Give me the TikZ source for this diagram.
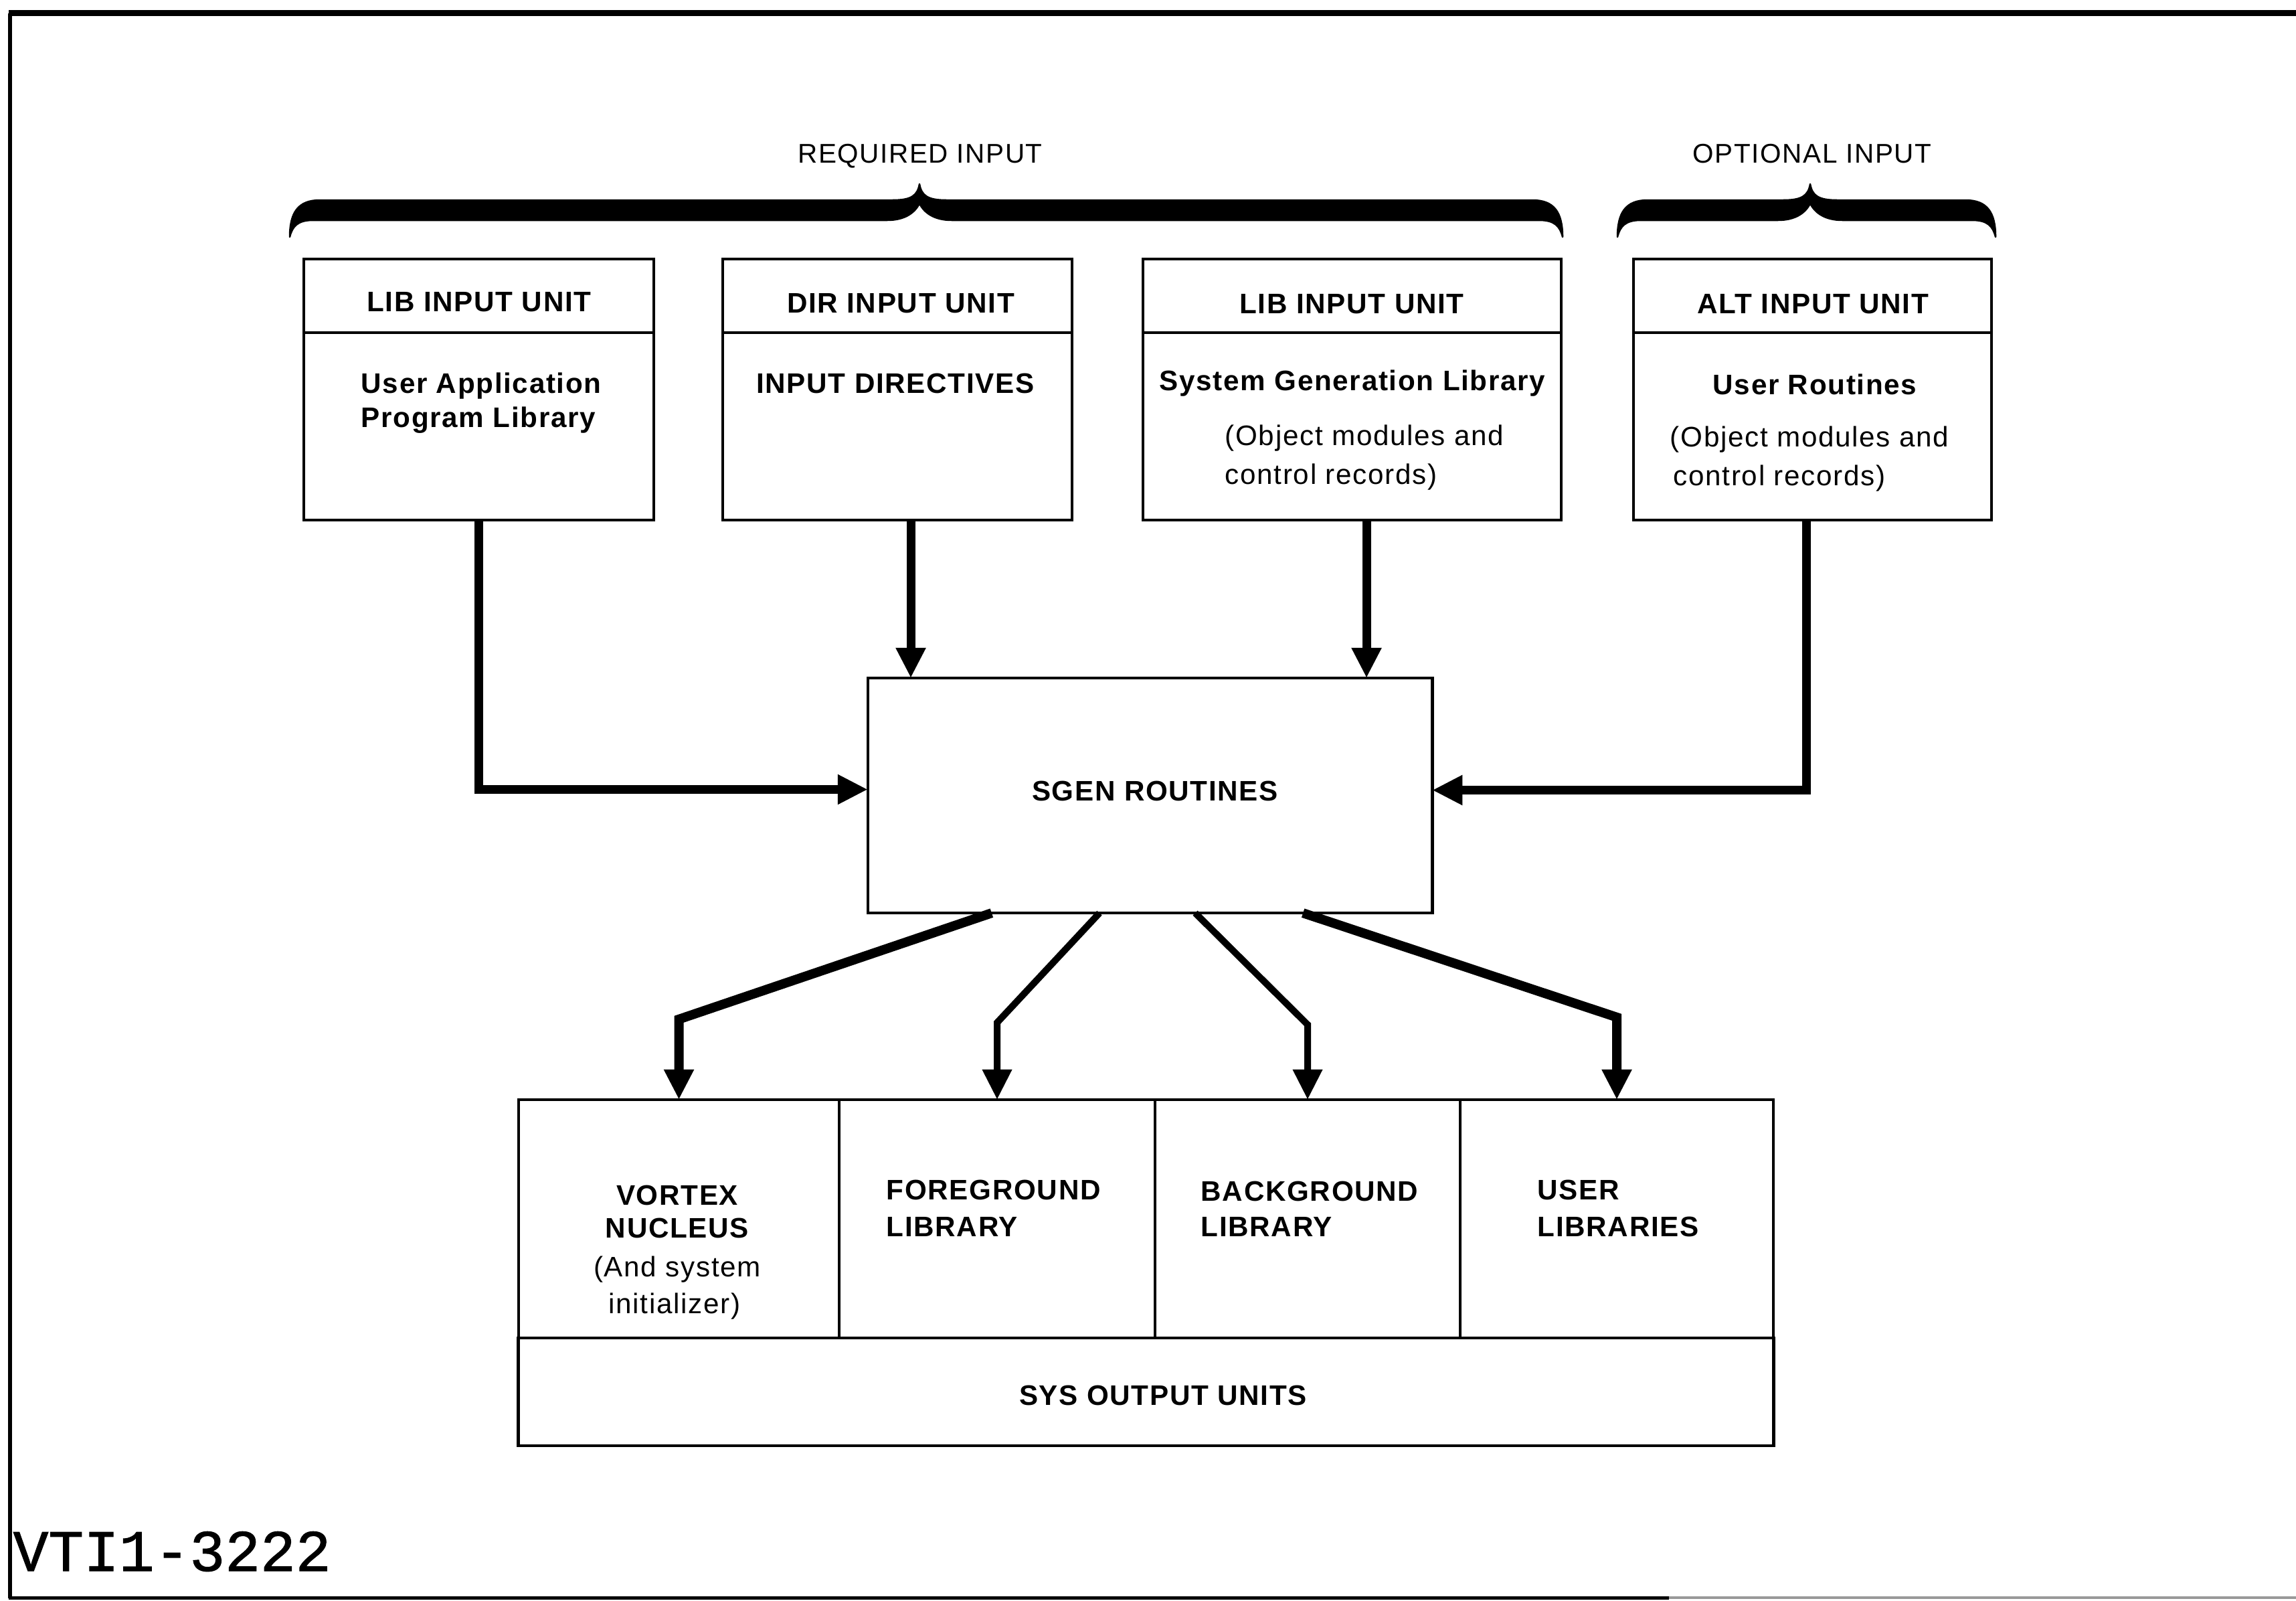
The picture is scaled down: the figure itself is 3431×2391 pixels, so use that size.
\documentclass[tikz,border=0pt]{standalone}
\usepackage{fontspec}
\setmainfont{Liberation Sans}
\newfontfamily\labfont{Liberation Sans}[LetterSpace=4]
\newfontfamily\codefont{Liberation Mono}[FakeBold=1.2]
\usetikzlibrary{arrows.meta}
\newcommand\mybrace[3]{%
 \filldraw[line width=0.025cm, line join=round] (#1,354) .. controls (#1,318) and ({#1+12},299) .. ({#1+45},299)
 -- ({#2-40},299) .. controls ({#2-12},299) and ({#2-3},292) .. (#2,275)
 .. controls ({#2+3},292) and ({#2+12},299) .. ({#2+40},299)
 -- ({#3-45},299) .. controls ({#3-12},299) and (#3,318) .. (#3,354)
 .. controls ({#3-4},338) and ({#3-12},329) .. ({#3-35},329)
 -- ({#2+48},329) .. controls ({#2+22},329) and ({#2+7},318) .. (#2,304)
 .. controls ({#2-7},318) and ({#2-22},329) .. ({#2-48},329)
 -- ({#1+35},329) .. controls ({#1+12},329) and ({#1+4},338) .. (#1,354) -- cycle;}
\begin{document}
\begin{tikzpicture}[x=0.01cm, y=-0.01cm,
  box/.style={draw, line width=0.045cm, inner sep=0pt, outer sep=0pt},
  divline/.style={line width=0.045cm},
  hd/.style={font=\labfont\bfseries\fontsize{12pt}{14pt}\selectfont, inner sep=0pt, anchor=base},
  hdl/.style={hd, anchor=base west},
  rg/.style={font=\labfont\fontsize{12pt}{14pt}\selectfont, inner sep=0pt, anchor=base},
  rgl/.style={rg, anchor=base west},
  brlab/.style={font=\labfont\fontsize{11.5pt}{14pt}\selectfont, inner sep=0pt, anchor=base},
  arr/.style={line width=0.13cm, -{Triangle[length=0.45cm,width=0.42cm]}},
  arrthin/.style={arr, line width=0.1cm},
  arrthick/.style={arr, line width=0.14cm}]
\useasboundingbox (0,0) rectangle (3431,2391);
% frame
\draw[line width=0.09cm] (13,20) -- (3431,20);
\draw[line width=0.06cm] (15,20) -- (15,2388);
\draw[line width=0.05cm] (13,2387) -- (2494,2387);
\draw[line width=0.04cm, black!40] (2494,2387) -- (3431,2387);
% braces
\mybrace{433}{1374}{2335}
\mybrace{2417}{2705}{2982}
\node[brlab] (req) at (1375,243) {REQUIRED INPUT};
\node[brlab] (opt) at (2708,243) {OPTIONAL INPUT};
% input boxes
\node[box, minimum width=5.23cm, minimum height=3.9cm] (b1) at (715.5,582) {};
\node[box, minimum width=5.22cm, minimum height=3.9cm] (b2) at (1341,582) {};
\node[box, minimum width=6.25cm, minimum height=3.9cm] (b3) at (2020.5,582) {};
\node[box, minimum width=5.35cm, minimum height=3.9cm] (b4) at (2708.5,582) {};
\foreach \b in {b1,b2,b3,b4}
  \draw[divline] ([yshift=-1.1cm]\b.north west) -- ([yshift=-1.1cm]\b.north east);
\node[hd] (h1) at (716,465) {LIB INPUT UNIT};
\node[hd] (h2) at (1346,467) {DIR INPUT UNIT};
\node[hd] (h3) at (2020,468) {LIB INPUT UNIT};
\node[hd] (h4) at (2709,468) {ALT INPUT UNIT};
\node[hdl] (t1a) at (539,587) {User Application};
\node[hdl] (t1b) at (539,638) {Program Library};
\node[hd] (t2a) at (1338,587) {INPUT DIRECTIVES};
\node[hd] (t3a) at (2021,583) {System Generation Library};
\node[rgl] (t3b) at (1830,665) {(Object modules and};
\node[rgl] (t3c) at (1830,723) {control records)};
\node[hd] (t4a) at (2712,589) {User Routines};
\node[rgl] (t4b) at (2495,667) {(Object modules and};
\node[rgl] (t4c) at (2500,725) {control records)};
% SGEN
\node[box, minimum width=8.43cm, minimum height=3.51cm] (sgen) at (1718.5,1188.5) {};
\node[hd] (sgent) at (1726,1196) {SGEN ROUTINES};
% input arrows
\coordinate (a2) at ([xshift=0.2cm]b2.south);
\coordinate (a3) at ([xshift=0.215cm]b3.south);
\coordinate (a4) at ([xshift=-0.09cm]b4.south);
\draw[arr] (b1.south) |- ([yshift=0.09cm]sgen.west);
\draw[arr] (a2) -- (a2 |- sgen.north);
\draw[arr] (a3) -- (a3 |- sgen.north);
\draw[arr] (a4) |- ([yshift=0.08cm]sgen.east);
% output boxes
\node[box, minimum width=4.79cm, minimum height=3.56cm] (c1) at (1014.5,1821) {};
\node[box, minimum width=4.72cm, minimum height=3.56cm] (c2) at (1490,1821) {};
\node[box, minimum width=4.56cm, minimum height=3.56cm] (c3) at (1954,1821) {};
\node[box, minimum width=4.68cm, minimum height=3.56cm] (c4) at (2416,1821) {};
\node[box, minimum width=18.75cm, minimum height=1.61cm] (sys) at (1712.5,2079.5) {};
\node[hd] (v1) at (1012,1800) {VORTEX};
\node[hd] (v2) at (1012,1849) {NUCLEUS};
\node[rg] (v3) at (1012,1907) {(And system};
\node[rg] (v4) at (1008,1962) {initializer)};
\node[hdl] (f1) at (1324,1792) {FOREGROUND};
\node[hdl] (f2) at (1324,1847) {LIBRARY};
\node[hdl] (g1) at (1794,1794) {BACKGROUND};
\node[hdl] (g2) at (1794,1847) {LIBRARY};
\node[hdl] (u1) at (2297,1792) {USER};
\node[hdl] (u2) at (2297,1847) {LIBRARIES};
\node[hd] (syst) at (1738,2099) {SYS OUTPUT UNITS};
% output arrows
\coordinate (s1) at ([xshift=-2.365cm]sgen.south);
\coordinate (s2) at ([xshift=-0.755cm]sgen.south);
\coordinate (s3) at ([xshift=0.675cm]sgen.south);
\coordinate (s4) at ([xshift=2.285cm]sgen.south);
\draw[arrthick] (s1) -- ([yshift=1.2cm]c1.north) -- (c1.north);
\draw[arrthin] (s2) -- ([yshift=1.15cm]c2.north) -- (c2.north);
\draw[arrthin] (s3) -- ([yshift=1.12cm]c3.north) -- (c3.north);
\draw[arrthick] (s4) -- ([yshift=1.23cm]c4.north) -- (c4.north);
% figure id
\node[font=\codefont\fontsize{25pt}{28pt}\selectfont, inner sep=0pt, anchor=base west] (fid) at (19,2347) {VTI1-3222};
\end{tikzpicture}
\end{document}
